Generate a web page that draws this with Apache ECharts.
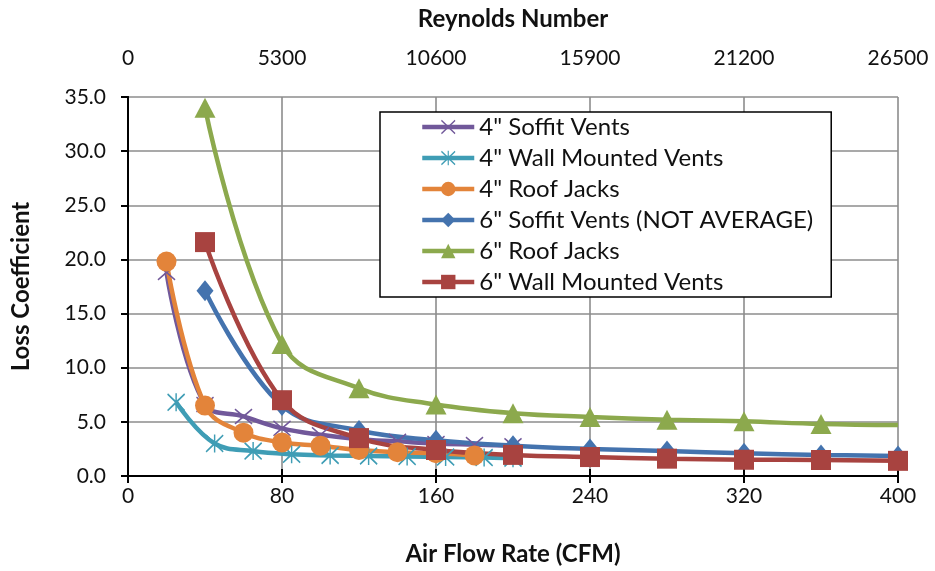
<!DOCTYPE html>
<html>
<head>
<meta charset="utf-8">
<script src="https://cdn.jsdelivr.net/npm/echarts@6/dist/echarts.min.js"></script>
<style>
  html, body { margin: 0; padding: 0; background: #fff; }
  #chart { width: 935px; height: 571px; }
</style>
</head>
<body>
<div id="chart"></div>
<script>
// Loss coefficient vs. air flow rate for several vent terminations
const soffit4Cfm   = [20, 40, 60, 80, 100, 120, 140, 160, 180, 200];
const soffit4K     = [18.8, 6.6, 5.5, 4.4, 3.8, 3.4, 3.2, 3.0, 2.9, 2.8];

const wall4Cfm     = [25, 45, 65, 85, 105, 125, 145, 165, 185, 200];
const wall4K       = [6.8, 3.0, 2.3, 2.0, 1.9, 1.85, 1.8, 1.75, 1.7, 1.65];

const roof4Cfm     = [20, 40, 60, 80, 100, 120, 140, 160, 180];
const roof4K       = [19.8, 6.5, 4.0, 3.1, 2.8, 2.4, 2.2, 2.1, 1.9];

const soffit6Cfm   = [40, 80, 120, 160, 200, 240, 280, 320, 360, 400];
const soffit6K     = [17.1, 6.5, 4.2, 3.3, 2.8, 2.5, 2.3, 2.1, 1.95, 1.85];

const roof6Cfm     = [40, 80, 120, 160, 200, 240, 280, 320, 360, 400];
const roof6K       = [34.0, 12.2, 8.1, 6.6, 5.8, 5.45, 5.2, 5.05, 4.8, 4.7];

const wall6Cfm     = [40, 80, 120, 160, 200, 240, 280, 320, 360, 400];
const wall6K       = [21.6, 7.0, 3.5, 2.4, 1.95, 1.75, 1.6, 1.5, 1.48, 1.4];

const seriesNames = [
  '4" Soffit Vents',
  '4" Wall Mounted Vents',
  '4" Roof Jacks',
  '6" Soffit Vents (NOT AVERAGE)',
  '6" Roof Jacks',
  '6" Wall Mounted Vents'
];

const cfmTicks = { min: 0, max: 400, interval: 80 };
const reynoldsTicks = { min: 0, max: 26500, interval: 5300 };
const kTicks = { min: 0, max: 35, interval: 5 };

const FONT = 'Lato';
const TICK_SIZE = 21;
const TITLE_SIZE = 24;

const xMark = 'path://M1,0 L10,8.5 L19,0 L20,1.5 L11.5,10 L20,18.5 L19,20 L10,11.5 L1,20 L0,18.5 L8.5,10 L0,1.5 Z';
const starMark = 'path://M1,0 L10,8.5 L19,0 L20,1.5 L11.5,10 L20,18.5 L19,20 L10,11.5 L1,20 L0,18.5 L8.5,10 L0,1.5 Z M9.2,0 L10.8,0 L10.8,20 L9.2,20 Z';

function pairs(xs, ys) {
  return xs.map((x, i) => [x, ys[i]]);
}

const styles = [
  { color: '#71589A', symbol: xMark, size: [18, 16] },
  { color: '#3F9DB5', symbol: starMark, size: [18, 18] },
  { color: '#E3843A', symbol: 'circle', size: 20 },
  { color: '#4473AE', symbol: 'diamond', size: [17, 21] },
  { color: '#8CA94D', symbol: 'triangle', size: [21, 20] },
  { color: '#A84340', symbol: 'rect', size: 20 }
];

const allData = [
  pairs(soffit4Cfm, soffit4K),
  pairs(wall4Cfm, wall4K),
  pairs(roof4Cfm, roof4K),
  pairs(soffit6Cfm, soffit6K),
  pairs(roof6Cfm, roof6K).map((p, i, arr) => i === arr.length - 1 ? { value: p, symbol: 'none' } : p),
  pairs(wall6Cfm, wall6K)
];

const series = seriesNames.map((name, i) => ({
  name: name,
  type: 'line',
  xAxisIndex: 0,
  yAxisIndex: 0,
  data: allData[i],
  smooth: 0.4,
  symbol: styles[i].symbol,
  symbolSize: styles[i].size,
  showAllSymbol: true,
  color: styles[i].color,
  lineStyle: { width: 4.5, color: styles[i].color },
  itemStyle: { color: styles[i].color, borderWidth: 0 },
  emphasis: { disabled: true },
  animation: false
}));

const chart = echarts.init(document.getElementById('chart'), null, { renderer: 'canvas' });

const tickLabel = { fontFamily: FONT, fontSize: TICK_SIZE, color: '#111' };
const titleText = { fontFamily: FONT, fontSize: TITLE_SIZE, fontWeight: 'bold', color: '#111' };

chart.setOption({
  backgroundColor: '#ffffff',
  animation: false,
  textStyle: { fontFamily: FONT },
  grid: { left: 128, right: 37, top: 97, bottom: 95, containLabel: false },
  legend: {
    orient: 'vertical',
    left: 380,
    top: 112,
    padding: [3, 18, 3, 40],
    itemGap: 7,
    itemWidth: 52,
    itemHeight: 18,
    borderColor: '#000',
    borderWidth: 1.5,
    borderRadius: 0,
    backgroundColor: '#fff',
    lineStyle: { width: 4.5 },
    textStyle: { fontFamily: FONT, fontSize: 24, color: '#111' },
    data: seriesNames
  },
  xAxis: [
    {
      type: 'value',
      position: 'bottom',
      min: cfmTicks.min, max: cfmTicks.max, interval: cfmTicks.interval,
      name: 'Air Flow Rate (CFM)',
      nameLocation: 'middle',
      nameGap: 66,
      nameTextStyle: titleText,
      axisLine: { show: true, lineStyle: { color: '#000', width: 2 } },
      axisTick: { show: true, inside: false, length: 7, lineStyle: { color: '#000', width: 2 } },
      axisLabel: Object.assign({ margin: 10 }, tickLabel),
      splitLine: { show: true, lineStyle: { color: '#8c8c8c', width: 1.6 } }
    },
    {
      type: 'value',
      position: 'top',
      min: reynoldsTicks.min, max: reynoldsTicks.max, interval: reynoldsTicks.interval,
      name: 'Reynolds Number',
      nameLocation: 'middle',
      nameGap: 66,
      nameTextStyle: titleText,
      axisLine: { show: true, lineStyle: { color: '#000', width: 2 } },
      axisTick: { show: true, inside: false, length: 7, lineStyle: { color: '#000', width: 2 } },
      axisLabel: Object.assign({ margin: 28, formatter: v => String(v) }, tickLabel),
      splitLine: { show: false }
    }
  ],
  yAxis: [
    {
      type: 'value',
      position: 'left',
      min: kTicks.min, max: kTicks.max, interval: kTicks.interval,
      name: 'Loss Coefficient',
      nameLocation: 'middle',
      nameGap: 95,
      nameTextStyle: titleText,
      axisLine: { show: true, lineStyle: { color: '#000', width: 2 } },
      axisTick: { show: true, inside: false, length: 7, lineStyle: { color: '#000', width: 2 } },
      axisLabel: Object.assign({ margin: 22, formatter: v => v.toFixed(1) }, tickLabel),
      splitLine: { show: true, lineStyle: { color: '#8c8c8c', width: 1.6 } }
    },
    {
      type: 'value',
      position: 'right',
      min: kTicks.min, max: kTicks.max, interval: kTicks.interval,
      axisLine: { show: true, lineStyle: { color: '#000', width: 2 } },
      axisTick: { show: false },
      axisLabel: { show: false },
      splitLine: { show: false }
    }
  ],
  series: series
});
</script>
</body>
</html>
